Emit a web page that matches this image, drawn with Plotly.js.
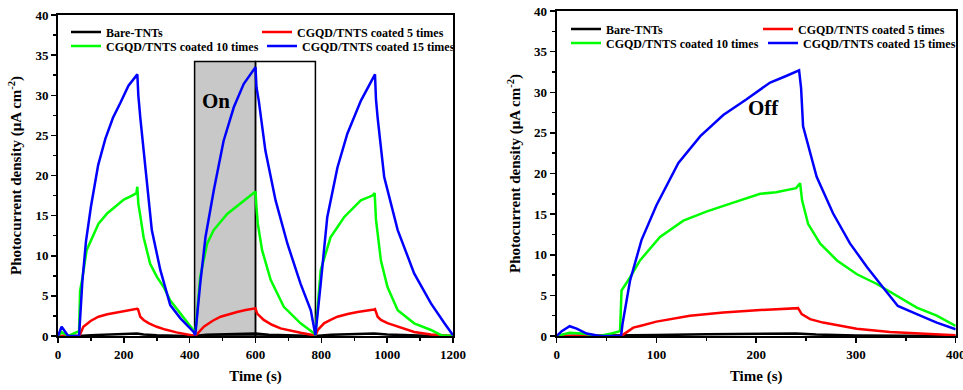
<!DOCTYPE html>
<html>
<head>
<meta charset="utf-8">
<script src="https://cdn.plot.ly/plotly-3.0.1.min.js"></script>
<style>html,body{margin:0;padding:0;background:#fff;}#chart{width:963px;height:390px;}</style>
</head>
<body>
<div id="chart"></div>
<script>
// ---------- series names ----------
const seriesNames = ["Bare-TNTs", "CGQD/TNTS coated 5 times", "CGQD/TNTS coated 10 times", "CGQD/TNTS coated 15 times"];
const seriesColors = ["#000000", "#ff0000", "#00ff00", "#0000ff"];

// ---------- left panel (three on/off cycles) ----------
const leftBlackT = [0,64,100,150,200,240,260,300,360,415,450,500,550,600,640,700,782,830,880,930,960,1000,1060,1120,1200];
const leftBlackV = [0,0,0.1,0.2,0.28,0.32,0.2,0.08,0.02,0,0.15,0.22,0.28,0.3,0.15,0.05,0,0.15,0.25,0.3,0.32,0.18,0.08,0.02,0];

const leftRedT = [0,64,67,77,100,123,150,184,210,240,243,250,260,275,300,326,360,412,
                  417,443,470,494,520,544,570,597,600,605,615,625,650,676,737,782,
                  790,808,828,849,880,910,960,963,971,981,1001,1032,1082,1133,1170,1200];
const leftRedV = [0,0,0.2,1.16,1.9,2.4,2.7,3.0,3.2,3.4,3.35,2.4,2.0,1.6,1.15,0.8,0.45,0,
                  0,1.16,1.9,2.4,2.75,3.0,3.25,3.43,3.45,2.8,2.4,2.0,1.4,0.95,0.4,0.05,
                  0.8,1.58,2.0,2.4,2.75,3.0,3.3,3.35,2.4,2.0,1.6,1.16,0.5,0.2,0.1,0];

const leftGreenT = [0,11,31,56,64,67,74,87,103,123,150,174,200,225,238,241,244,250,260,280,300,321,340,372,395,412,
                    417,432,453,473,514,554,597,600,603,607,620,646,686,737,778,782,
                    798,828,869,920,955,962,966,971,981,1001,1032,1082,1113,1133,1164,1200];
const leftGreenV = [0,0.5,0,0.4,0.6,5.6,7.2,10.7,12.2,14.0,15.3,16.1,17.0,17.5,17.8,18.6,16.5,15.0,12.3,9.0,7.4,6.1,4.5,2.8,1.6,0.7,
                    0.2,7.4,11.5,13.2,15.2,16.5,17.9,18.0,16.0,14.0,10.7,7.0,3.64,1.58,0.34,0.1,
                    8.2,12.3,14.8,16.9,17.5,17.8,14.5,12.8,9.4,6.1,3.2,1.58,1.08,0.75,0.1,0];

const leftBlueT = [0,11,31,64,74,85,100,122,144,167,190,214,241,244,250,265,285,311,331,341,372,395,412,
                   417,432,448,473,503,534,564,600,603,610,630,661,697,737,768,782,
                   798,818,849,879,920,963,966,971,991,1032,1082,1133,1174,1200];
const leftBlueV = [0,1.16,0,0,6.8,11.8,16.1,21.3,24.6,27.2,29.1,31.2,32.6,30.0,27.2,21.0,13.2,8.2,5.3,3.85,2.2,1.2,0.5,
                   0.1,6.5,12.3,18.1,24.3,28.5,31.4,33.5,31.0,29.3,23.1,16.9,11.5,6.5,3.2,0.1,
                   6.5,14.8,21.0,25.2,29.3,32.6,29.5,27.2,19.8,13.2,7.8,4.06,1.58,0.1];

// ---------- right panel (single cycle, 0-400 s) ----------
const rightBlackT = [0,64,100,150,200,240,260,300,350,400];
const rightBlackV = [0,0.02,0.12,0.2,0.28,0.32,0.18,0.06,0.02,0];

const rightRedT = [0,64.5,67,76.8,83.5,100,133.6,167,200.5,242,245.6,254,267,300.7,334,367.5,400];
const rightRedV = [0,0,0.2,1.03,1.24,1.77,2.48,2.89,3.18,3.43,2.69,2.07,1.65,0.9,0.5,0.29,0.09];

const rightGreenT = [0,13,25,43,55,63.5,65,73.5,83.5,103.6,127,150,174,204,220,240,244,246,252,264,281,301,321,341,361,381,400];
const rightGreenV = [0,0.4,0.3,0,0.3,0.6,5.6,7.2,9.3,12.2,14.2,15.3,16.3,17.5,17.7,18.2,18.8,16.7,13.8,11.4,9.3,7.6,6.4,4.95,3.5,2.5,1.24];

const rightBlueT = [0,5,13,20,30,43,64.5,66,73.5,85,100,122,144,167,190,204,214,230,243,245,247,260.6,277,294,311,327,342,361,381,400];
const rightBlueV = [0,0.6,1.2,0.9,0.3,0,0,1.5,6.8,11.8,16.1,21.3,24.6,27.2,29.1,30.3,31.2,32.0,32.7,30.5,25.8,19.6,15.1,11.4,8.5,6.0,3.7,2.7,1.65,0.83];

// ---------- axis ticks ----------
const leftXTicks = [0,200,400,600,800,1000,1200];
const rightXTicks = [0,100,200,300,400];
const yTicks = [0,5,10,15,20,25,30,35,40];

// illumination box (s) and height
const onStart = 415, onEnd = 600, offEnd = 782, boxTop = 34.2;

const FONT = "Liberation Serif, Times New Roman, serif";

const leftSets = [[leftBlackT,leftBlackV],[leftRedT,leftRedV],[leftGreenT,leftGreenV],[leftBlueT,leftBlueV]];
const rightSets = [[rightBlackT,rightBlackV],[rightRedT,rightRedV],[rightGreenT,rightGreenV],[rightBlueT,rightBlueV]];

const traces = [];
leftSets.forEach((s, i) => {
  traces.push({x: s[0], y: s[1], type: 'scatter', mode: 'lines', name: seriesNames[i],
    line: {color: seriesColors[i], width: 2.5}, xaxis: 'x', yaxis: 'y',
    legend: i < 2 ? 'legend' : 'legend2'});
});
rightSets.forEach((s, i) => {
  traces.push({x: s[0], y: s[1], type: 'scatter', mode: 'lines', name: seriesNames[i],
    line: {color: seriesColors[i], width: 2.5}, xaxis: 'x2', yaxis: 'y2',
    legend: i < 2 ? 'legend3' : 'legend4'});
});

function xAxis(domain, range, ticks, minor, anchor) {
  return {domain: domain, range: range, anchor: anchor, tickvals: ticks, ticks: 'outside', ticklen: 5, tickwidth: 1.5,
    minor: {dtick: minor, ticks: 'outside', ticklen: 3, tickwidth: 1.5, tickcolor: '#000'},
    tickcolor: '#000', showline: true, linewidth: 2, linecolor: '#000', mirror: true, automargin: false,
    ticklabeloverflow: 'allow',
    showgrid: false, zeroline: false, tickfont: {family: FONT, size: 13, color: '#000', weight: 'bold'},
    title: {text: 'Time (s)', font: {family: FONT, size: 15, color: '#000', weight: 'bold'}, standoff: 10}};
}
function yAxis(domain, anchor) {
  return {domain: domain, range: [0, 40], anchor: anchor, tickvals: yTicks, ticks: 'outside', ticklen: 5, tickwidth: 1.5,
    minor: {dtick: 2.5, ticks: 'outside', ticklen: 3, tickwidth: 1.5, tickcolor: '#000'},
    tickcolor: '#000', showline: true, linewidth: 2, linecolor: '#000', mirror: true, automargin: false,
    showgrid: false, zeroline: false, tickfont: {family: FONT, size: 13, color: '#000', weight: 'bold'},
    title: {text: 'Photocurrent density (μA cm<sup>-2</sup>)', font: {family: FONT, size: 15, color: '#000', weight: 'bold'}, standoff: 10}};
}
function legend(x, y, ew) {
  return {x: x, y: y, xanchor: 'left', yanchor: 'middle', orientation: 'h', entrywidth: ew, entrywidthmode: 'pixels',
    bgcolor: 'rgba(0,0,0,0)', borderwidth: 0, font: {family: FONT, size: 12, color: '#000', weight: 'bold'},
    itemwidth: 30, tracegroupgap: 0};
}

const layout = {
  width: 963, height: 390,
  margin: {l: 0, r: 0, t: 0, b: 0, autoexpand: false},
  paper_bgcolor: '#fff', plot_bgcolor: '#fff',
  font: {family: FONT, color: '#000'},
  xaxis: xAxis([58/963, 453/963], [0, 1200], leftXTicks, 100, 'y'),
  yaxis: yAxis([54/390, 375/390], 'x'),
  xaxis2: xAxis([556.7/963, 955.7/963], [0, 400], rightXTicks, 50, 'y2'),
  yaxis2: yAxis([54/390, 379/390], 'x2'),
  legend: legend(66/963, 1 - 32/390, 146),
  legend2: legend(66/963, 1 - 46/390, 151),
  legend3: legend(566/963, 1 - 29/390, 147),
  legend4: legend(566/963, 1 - 43/390, 152),
  shapes: [
    {type: 'rect', xref: 'x', yref: 'y', x0: onStart, x1: onEnd, y0: 0, y1: boxTop, fillcolor: '#c8c8c8', line: {color: '#000', width: 1.5}, layer: 'below'},
    {type: 'rect', xref: 'x', yref: 'y', x0: onEnd, x1: offEnd, y0: 0, y1: boxTop, fillcolor: 'rgba(0,0,0,0)', line: {color: '#000', width: 1.5}, layer: 'below'}
  ],
  annotations: [
    {text: 'On', xref: 'x', yref: 'y', x: 481, y: 29.3, showarrow: false, font: {family: FONT, size: 21, color: '#000', weight: 'bold'}},
    {text: 'Off', xref: 'x2', yref: 'y2', x: 207, y: 28.1, showarrow: false, font: {family: FONT, size: 21, color: '#000', weight: 'bold'}}
  ]
};

Plotly.newPlot('chart', traces, layout, {displayModeBar: false, staticPlot: true});
</script>
</body>
</html>
